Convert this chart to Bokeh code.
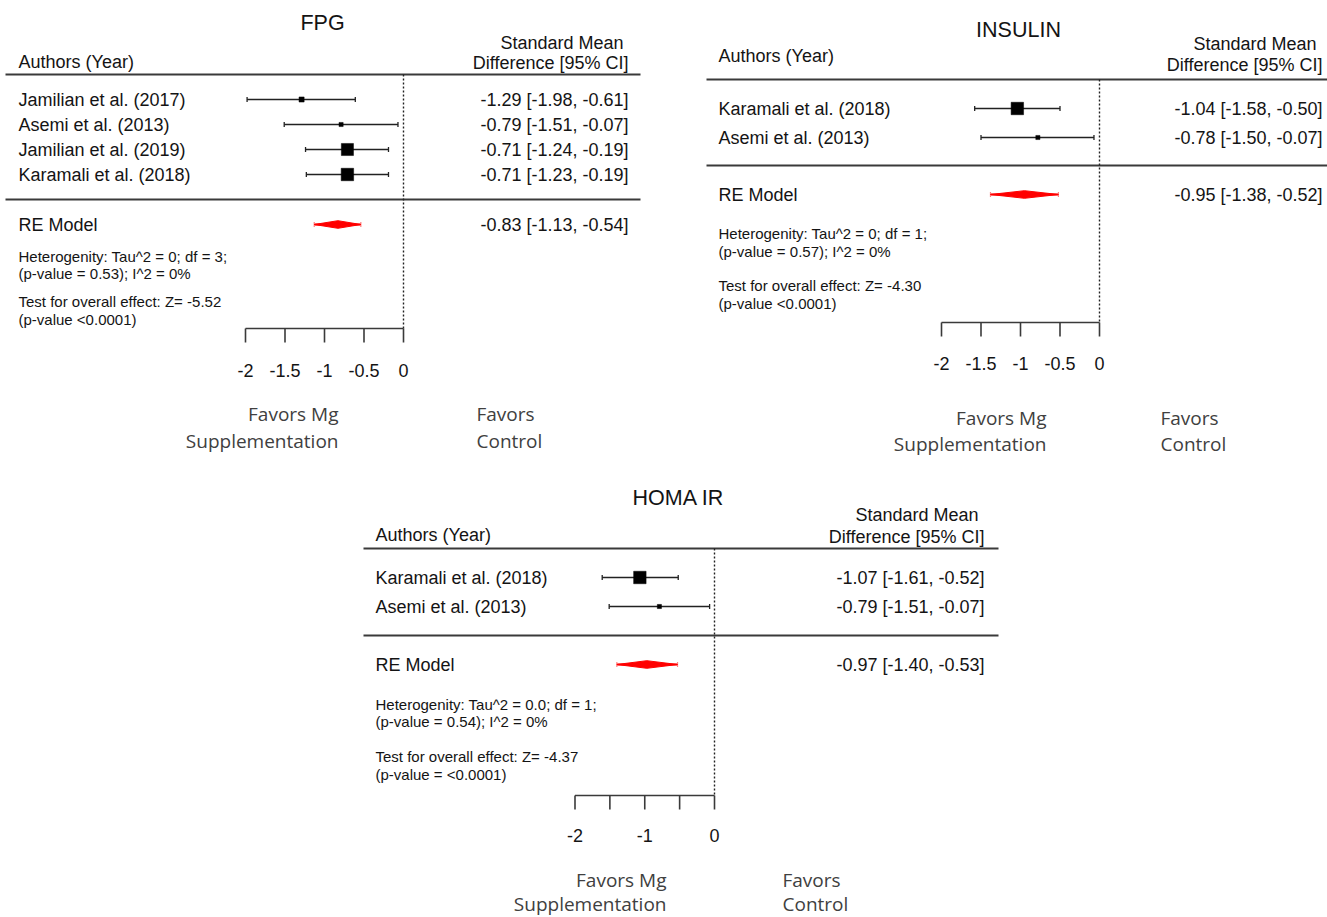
import numpy as np
from bokeh.plotting import figure
from bokeh.models import Range1d, ColumnDataSource, Spacer
from bokeh.layouts import column, row
from bokeh.core.properties import value
from bokeh.embed import file_html
from bokeh.resources import INLINE

# ---------------- data ----------------
fpg_title = "FPG"
fpg_authors = ["Jamilian et al. (2017)", "Asemi et al. (2013)", "Jamilian et al. (2019)", "Karamali et al. (2018)"]
fpg_est = [-1.29, -0.79, -0.71, -0.71]
fpg_lo = [-1.98, -1.51, -1.24, -1.23]
fpg_hi = [-0.61, -0.07, -0.19, -0.19]
fpg_re = [-0.83, -1.13, -0.54]
fpg_notes = ["Heterogenity: Tau^2 = 0; df = 3;", "(p-value = 0.53); I^2 = 0%",
             "Test for overall effect: Z= -5.52", "(p-value <0.0001)"]

ins_title = "INSULIN"
ins_authors = ["Karamali et al. (2018)", "Asemi et al. (2013)"]
ins_est = [-1.04, -0.78]
ins_lo = [-1.58, -1.50]
ins_hi = [-0.50, -0.07]
ins_re = [-0.95, -1.38, -0.52]
ins_notes = ["Heterogenity: Tau^2 = 0; df = 1;", "(p-value = 0.57); I^2 = 0%",
             "Test for overall effect: Z= -4.30", "(p-value <0.0001)"]

homa_title = "HOMA IR"
homa_authors = ["Karamali et al. (2018)", "Asemi et al. (2013)"]
homa_est = [-1.07, -0.79]
homa_lo = [-1.61, -1.51]
homa_hi = [-0.52, -0.07]
homa_re = [-0.97, -1.40, -0.53]
homa_notes = ["Heterogenity: Tau^2 = 0.0; df = 1;", "(p-value = 0.54); I^2 = 0%",
              "Test for overall effect: Z= -4.37", "(p-value = <0.0001)"]

top_ticks = [-2, -1.5, -1, -0.5, 0]
top_tick_labels = ["-2", "-1.5", "-1", "-0.5", "0"]
homa_ticks = [-2, -1.5, -1, -0.5, 0]
homa_label_ticks = [-2, -1, 0]
homa_tick_labels = ["-2", "-1", "0"]

header_left = "Authors (Year)"
header_right = ["Standard Mean", "Difference [95% CI]"]
favors_left = ["Favors Mg", "Supplementation"]
favors_right = ["Favors", "Control"]

# ---------------- styles ----------------
ARIAL = value("Liberation Sans")
OPEN = value("Open Sans")
TXT = "#141414"
LINE = "#3a3a3a"
MAIN_FS = value("18px")


def fmt(e, l, h):
    return f"{e:.2f} [{l:.2f}, {h:.2f}]"


def panel(title, authors, est, lo, hi, re, notes, ticks, label_ticks, tick_labels, L):
    W, H, zero, scale = L["W"], L["H"], L["zero"], L["scale"]
    X = lambda px: (px - zero) / scale
    p = figure(width=W, height=H, x_range=Range1d(X(0), X(W)), y_range=Range1d(H, 0),
               output_backend="svg", toolbar_location=None,
               x_axis_location=None, y_axis_location=None, min_border=0)
    p.outline_line_color = None
    p.xgrid.visible = False
    p.ygrid.visible = False
    p.background_fill_color = "white"
    p.border_fill_color = "white"

    n = len(authors)
    ys = [L["row0"] + i * L["rowh"] for i in range(n)]

    # title
    p.text(x=[X(L["title_x"])], y=[L["title_y"]], text=[title], text_font=ARIAL,
           text_font_size=value("21.5px"), text_align="center", text_baseline="middle", text_color=TXT)
    # headers
    p.text(x=[X(L["left_x"])], y=[L["auth_y"]], text=[header_left], text_font=ARIAL,
           text_font_size=MAIN_FS, text_align="left", text_baseline="middle", text_color=TXT)
    p.text(x=[X(L["hdr1_x"]), X(L["right_x"])], y=[L["hdr1_y"], L["hdr2_y"]], text=header_right,
           text_font=ARIAL, text_font_size=MAIN_FS, text_align="right",
           text_baseline="middle", text_color=TXT)
    # horizontal rules
    p.segment(x0=[X(L["rule_x0"])] * 2, x1=[X(L["rule_x1"])] * 2, y0=[L["rule1"], L["rule2"]],
              y1=[L["rule1"], L["rule2"]], line_color=LINE, line_width=1.8)
    # dotted zero line
    p.segment(x0=[0], x1=[0], y0=[L["rule1"]], y1=[L["axis_y"]], line_color="#222222",
              line_width=1.4, line_dash="2 2")

    # study rows
    lo_a, hi_a = np.array(lo), np.array(hi)
    w = 1.0 / ((hi_a - lo_a) / 3.92) ** 2
    ps = (w - w.min()) / (w.max() - w.min()) if w.max() > w.min() else np.ones_like(w)
    sizes = L["sq"] * (0.5 + ps)
    src = ColumnDataSource(dict(y=ys, est=est, lo=lo, hi=hi, size=sizes, author=authors,
                                ci=[fmt(e, l, h) for e, l, h in zip(est, lo, hi)]))
    p.segment(x0="lo", x1="hi", y0="y", y1="y", source=src, line_color="#222222", line_width=1.3)
    cap = 2.5
    capy0 = [y - cap for y in ys]
    capy1 = [y + cap for y in ys]
    p.segment(x0=lo, x1=lo, y0=capy0, y1=capy1, line_color="#222222", line_width=1.3)
    p.segment(x0=hi, x1=hi, y0=capy0, y1=capy1, line_color="#222222", line_width=1.3)
    p.scatter(x="est", y="y", size="size", marker="square", source=src, fill_color="black",
              line_color="black", line_width=0.5)
    p.text(x=X(L["left_x"]), y="y", text="author", source=src, text_font=ARIAL,
           text_font_size=MAIN_FS, text_align="left", text_baseline="middle", text_color=TXT)
    p.text(x=X(L["right_x"]), y="y", text="ci", source=src, text_font=ARIAL,
           text_font_size=MAIN_FS, text_align="right", text_baseline="middle", text_color=TXT)

    # RE model
    e, l, h = re
    ry = L["re_y"]
    p.segment(x0=[l], x1=[h], y0=[ry], y1=[ry], line_color="red", line_width=2.2)
    p.segment(x0=[l, h], x1=[l, h], y0=[ry - 2.5] * 2, y1=[ry + 2.5] * 2,
              line_color="#ff8080", line_width=1.2)
    dh = 3.8
    p.patch(x=[l, e, h, e], y=[ry, ry - dh, ry, ry + dh], fill_color="red", line_color="red",
            line_width=1.0)
    p.text(x=[X(L["left_x"])], y=[ry], text=["RE Model"], text_font=ARIAL,
           text_font_size=MAIN_FS, text_align="left", text_baseline="middle", text_color=TXT)
    p.text(x=[X(L["right_x"])], y=[ry], text=[fmt(e, l, h)], text_font=ARIAL,
           text_font_size=MAIN_FS, text_align="right", text_baseline="middle", text_color=TXT)

    # notes
    p.text(x=[X(L["left_x"])] * 4, y=L["notes_y"], text=notes, text_font=ARIAL,
           text_font_size=value("15px"), text_align="left", text_baseline="middle", text_color=TXT)

    # axis
    ay = L["axis_y"]
    p.segment(x0=[min(ticks)], x1=[max(ticks)], y0=[ay], y1=[ay], line_color=LINE, line_width=1.6)
    p.segment(x0=ticks, x1=ticks, y0=[ay] * len(ticks), y1=[ay + 14] * len(ticks),
              line_color=LINE, line_width=1.6)
    p.text(x=label_ticks, y=[L["tick_y"]] * len(label_ticks), text=tick_labels, text_font=ARIAL,
           text_font_size=MAIN_FS, text_align="center", text_baseline="middle", text_color=TXT)

    # favors
    fy = L["fav_y"]
    p.text(x=[X(L["favL_x"])] * 2, y=fy, text=favors_left, text_font=OPEN,
           text_font_size=value("19px"), text_align="right", text_baseline="middle",
           text_color="#404040")
    p.text(x=[X(L["favR_x"])] * 2, y=fy, text=favors_right, text_font=OPEN,
           text_font_size=value("19px"), text_align="left", text_baseline="middle",
           text_color="#404040")
    return p


L_fpg = dict(W=660, H=465, zero=403, scale=79.0, title_x=322, title_y=22, left_x=18,
             auth_y=61, hdr1_x=623, hdr1_y=42, hdr2_y=62, right_x=628,
             rule_x0=5, rule_x1=640, rule1=74, rule2=199, row0=99, rowh=25, sq=8.3,
             re_y=224, notes_y=[256, 273, 301, 319], axis_y=328, tick_y=370,
             fav_y=[413, 440], favL_x=338, favR_x=476)

L_ins = dict(W=667, H=465, zero=439, scale=79.0, title_x=358, title_y=29, left_x=58,
             auth_y=55, hdr1_x=656, hdr1_y=43, hdr2_y=64, right_x=662,
             rule_x0=46, rule_x1=667, rule1=79, rule2=165, row0=108, rowh=29, sq=8.3,
             re_y=194, notes_y=[233, 251, 285, 303], axis_y=322, tick_y=363,
             fav_y=[417, 443], favL_x=386, favR_x=500)

L_homa = dict(W=640, H=452, zero=354, scale=69.75, title_x=318, title_y=32, left_x=15,
              auth_y=69, hdr1_x=618, hdr1_y=49, hdr2_y=71, right_x=624,
              rule_x0=3, rule_x1=638, rule1=83, rule2=170, row0=112, rowh=29, sq=8.3,
              re_y=199, notes_y=[239, 256, 291, 309], axis_y=330, tick_y=370,
              fav_y=[414, 438], favL_x=306, favR_x=422)

p1 = panel(fpg_title, fpg_authors, fpg_est, fpg_lo, fpg_hi, fpg_re, fpg_notes,
           top_ticks, top_ticks, top_tick_labels, L_fpg)
p2 = panel(ins_title, ins_authors, ins_est, ins_lo, ins_hi, ins_re, ins_notes,
           top_ticks, top_ticks, top_tick_labels, L_ins)
p3 = panel(homa_title, homa_authors, homa_est, homa_lo, homa_hi, homa_re, homa_notes,
           homa_ticks, homa_label_ticks, homa_tick_labels, L_homa)

layout = column(row(p1, p2), row(Spacer(width=360, height=452), p3))
open("out.html", "w").write(file_html(layout, INLINE))
